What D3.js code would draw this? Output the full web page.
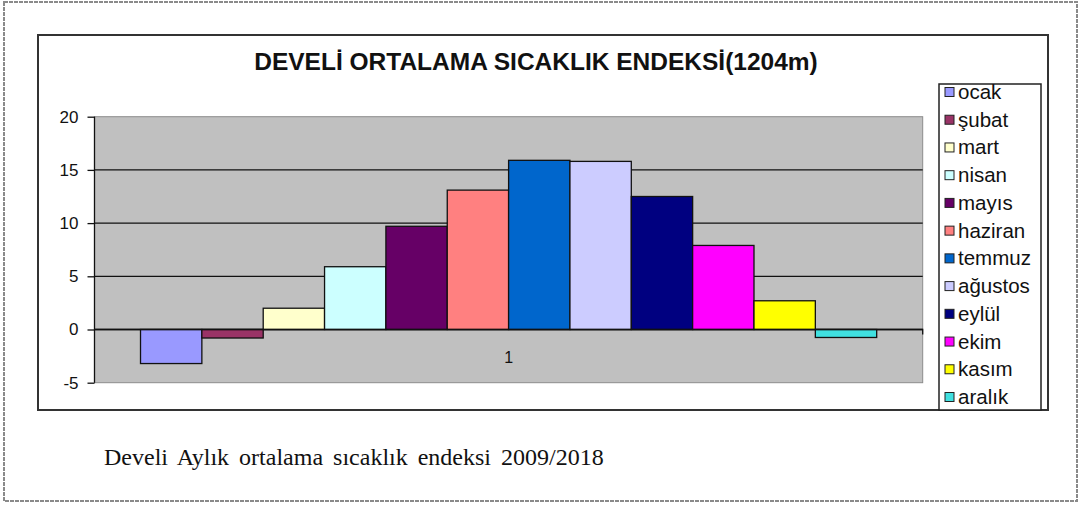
<!DOCTYPE html>
<html><head><meta charset="utf-8">
<script src="https://cdn.jsdelivr.net/npm/d3@7"></script>
<style>
html,body{margin:0;padding:0;background:#fff;}
svg{display:block;}
</style></head>
<body>
<svg id="chart" width="1081" height="506"></svg>
<script>
// ---- data ----
const months = ["ocak","şubat","mart","nisan","mayıs","haziran","temmuz","ağustos","eylül","ekim","kasım","aralık"];
const values = [-3.2, -0.8, 2.0, 5.9, 9.7, 13.1, 15.9, 15.8, 12.5, 7.9, 2.7, -0.75];
const colors = ["#9999FF","#993366","#FFFFCC","#CCFFFF","#660066","#FF8080","#0066CC","#CCCCFF","#000080","#FF00FF","#FFFF00","#40E0E0"];
const categories = ["1"];
const yTicks = [-5, 0, 5, 10, 15, 20];
const title = "DEVELİ ORTALAMA SICAKLIK ENDEKSİ(1204m)";
const caption = "Develi Aylık ortalama sıcaklık endeksi 2009/2018";

const svg = d3.select("#chart");

// outer page frame
svg.append("rect").attr("x",4).attr("y",2).attr("width",1073).attr("height",499)
  .attr("fill","none").attr("stroke","#8a8a8a").attr("stroke-width",2).attr("stroke-dasharray","4,1");

// chart box
svg.append("rect").attr("x",38).attr("y",35).attr("width",1010).attr("height",375)
  .attr("fill","#fff").attr("stroke","#333").attr("stroke-width",2);

// plot area
const L = 94.5, R = 922.7, T = 116.7, B = 382.7;
const y = d3.scaleLinear().domain([-5, 20]).range([B, T]);
const x0 = d3.scaleBand().domain(categories).range([L, R]).paddingInner(0).paddingOuter(0.0625);
const x1 = d3.scaleBand().domain(months).range([0, x0.bandwidth()]);

svg.append("rect").attr("x",L).attr("y",T).attr("width",R-L).attr("height",B-T)
  .attr("fill","#C0C0C0").attr("stroke","#8c8c8c").attr("stroke-width",1);

// gridlines
svg.append("g").selectAll("line").data(yTicks.filter(v => v > -5 && v < 20)).join("line")
  .attr("x1",L).attr("x2",R).attr("y1",d=>y(d)).attr("y2",d=>y(d))
  .attr("stroke","#111").attr("stroke-width",1.3);

// bars
const g = svg.append("g").attr("transform",`translate(${x0("1")},0)`);
g.selectAll("rect").data(months).join("rect")
  .attr("x", d => x1(d))
  .attr("width", x1.bandwidth())
  .attr("y", (d,i) => y(Math.max(0, values[i])))
  .attr("height", (d,i) => Math.abs(y(values[i]) - y(0)))
  .attr("fill", (d,i) => colors[i])
  .attr("stroke","#111").attr("stroke-width",1.3);

// y axis
const yAxis = d3.axisLeft(y).tickValues(yTicks).tickSize(7).tickPadding(9).tickFormat(d => String(d));
const ya = svg.append("g").attr("transform",`translate(${L},0)`).call(yAxis);
ya.select(".domain").attr("stroke","#111").attr("stroke-width",1.3).attr("d",`M0,${B}V${T}`);
ya.selectAll(".tick line").attr("stroke","#111").attr("stroke-width",1.3);
ya.selectAll(".tick text").attr("font-family","Arial, 'Liberation Sans', sans-serif")
  .attr("font-size",17).attr("fill","#111");

// x axis (at zero)
const xAxis = d3.axisBottom(x0).tickSize(0).tickPadding(22);
const xa = svg.append("g").attr("transform",`translate(0,${y(0)})`).call(xAxis);
xa.select(".domain").attr("stroke","#111").attr("stroke-width",1.3).attr("d",`M${L},0H${R}v5`);
xa.selectAll(".tick text").attr("font-family","Arial, 'Liberation Sans', sans-serif")
  .attr("font-size",16).attr("fill","#111");

// title
svg.append("text").attr("x",536).attr("y",70).attr("text-anchor","middle")
  .attr("font-family","Arial, 'Liberation Sans', sans-serif").attr("font-weight","bold")
  .attr("font-size",24.5).attr("fill","#111").text(title);

// legend
const lg = svg.append("g");
lg.append("rect").attr("x",939).attr("y",84).attr("width",102).attr("height",326)
  .attr("fill","#fff").attr("stroke","#222").attr("stroke-width",1.5);
const rowY = d3.scalePoint().domain(months).range([92, 397]);
const items = lg.selectAll("g.item").data(months).join("g").attr("class","item")
  .attr("transform", d => `translate(945,${rowY(d)})`);
items.append("rect").attr("x",0).attr("y",-4.5).attr("width",9).attr("height",9)
  .attr("fill",(d,i)=>colors[i]).attr("stroke","#222").attr("stroke-width",1);
items.append("text").attr("x",13).attr("y",7)
  .attr("font-family","Arial, 'Liberation Sans', sans-serif").attr("font-size",20.5)
  .attr("fill","#111").text(d=>d);

// caption
svg.append("text").attr("x",104).attr("y",465)
  .attr("font-family","'Liberation Serif', 'Times New Roman', serif").attr("font-size",24)
  .attr("word-spacing",4).attr("fill","#111").text(caption);
</script>
</body></html>
